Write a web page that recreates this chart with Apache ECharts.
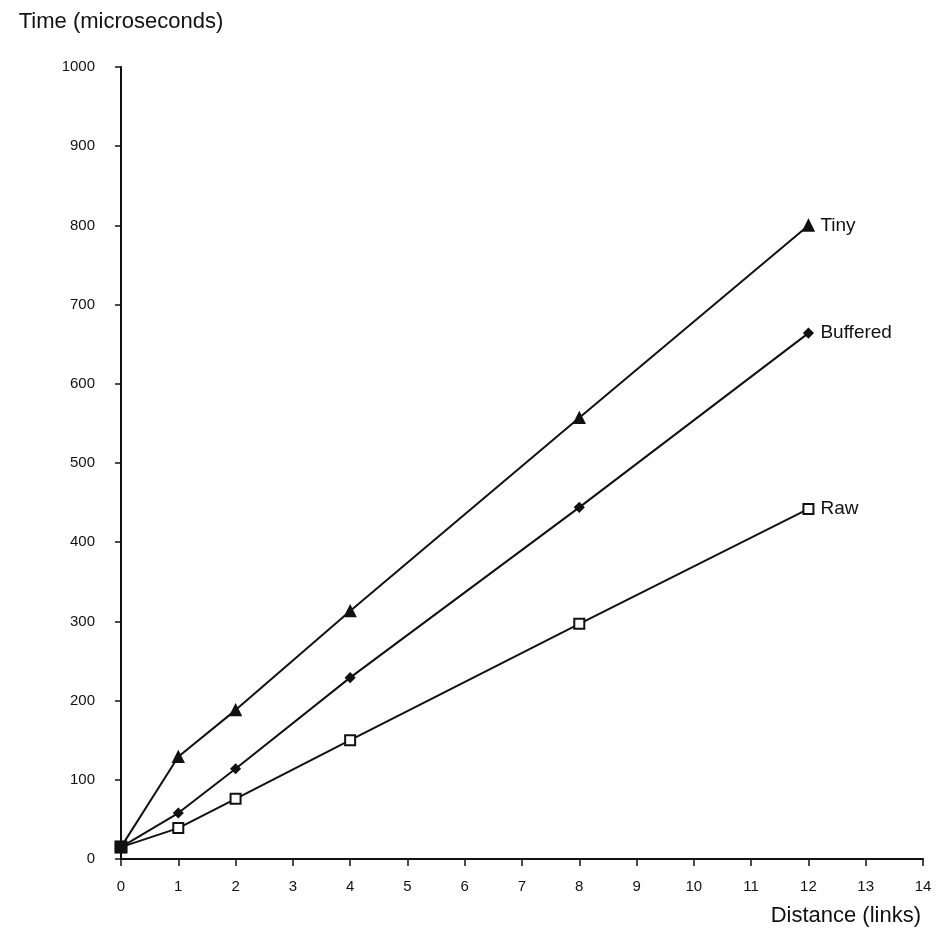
<!DOCTYPE html>
<html>
<head>
<meta charset="utf-8">
<script src="https://cdn.jsdelivr.net/npm/echarts@6/dist/echarts.min.js"></script>
<style>
  html, body { margin: 0; padding: 0; background: #fff; }
  #main { width: 938px; height: 936px; }
</style>
</head>
<body>
<div id="main"></div>
<script>
// distance in links, time in microseconds
const distances = [0, 1, 2, 4, 8, 12];
const tiny = [15, 129, 188, 313, 557, 800];
const buffered = [15, 58, 114, 229, 444, 664];
const raw = [15, 39, 76, 150, 297, 442];
const seriesNames = ['Tiny', 'Buffered', 'Raw'];

var myChart = echarts.init(document.getElementById('main'));
const font = 'Liberation Sans, Arial, sans-serif';
const ink = '#111';

function pts(vals) {
  return vals.map(function (v, i) {
    const p = { value: [distances[i], v] };
    if (i === 0) {
      p.symbol = 'rect';
      p.symbolSize = 11;
    }
    return p;
  });
}

function line(name, vals, sym, size) {
  return {
    name: name,
    type: 'line',
    data: pts(vals),
    symbol: sym,
    symbolSize: size,
    showAllSymbol: true,
    lineStyle: { color: ink, width: 2 },
    itemStyle: { color: ink, borderColor: ink, borderWidth: 1.5 },
    endLabel: {
      show: true,
      formatter: name,
      distance: 12,
      color: ink,
      fontFamily: font,
      fontSize: 19
    },
    animation: false,
    z: 3
  };
}

myChart.setOption({
  backgroundColor: '#fff',
  grid: { left: 121, right: 15, top: 67, bottom: 77, containLabel: false, outerBoundsMode: 'none' },
  xAxis: {
    type: 'value',
    min: 0, max: 14, interval: 1,
    name: 'Distance (links)',
    nameLocation: 'end',
    nameGap: -2,
    nameMoveOverlap: false,
    nameTextStyle: {
      color: ink, fontFamily: font, fontSize: 22,
      align: 'right', verticalAlign: 'top', padding: [46, 0, 0, 0]
    },
    axisLine: { lineStyle: { color: ink, width: 2 } },
    axisTick: { show: true, length: 7, lineStyle: { color: ink, width: 1.5 } },
    axisLabel: { color: ink, fontFamily: font, fontSize: 15, margin: 20 },
    splitLine: { show: false }
  },
  yAxis: {
    type: 'value',
    min: 0, max: 1000, interval: 100,
    name: 'Time (microseconds)',
    nameLocation: 'end',
    nameGap: 34,
    nameTextStyle: { color: ink, fontFamily: font, fontSize: 22 },
    axisLine: { show: true, lineStyle: { color: ink, width: 2 } },
    axisTick: { show: true, length: 6, lineStyle: { color: ink, width: 1.5 } },
    axisLabel: {
      color: ink, fontFamily: font, fontSize: 15, margin: 26,
      formatter: function (v) { return String(v); }
    },
    splitLine: { show: false }
  },
  series: [
    line(seriesNames[0], tiny, 'triangle', 11),
    line(seriesNames[1], buffered, 'diamond', 9),
    line(seriesNames[2], raw, 'emptyRect', 10)
  ]
});
</script>
</body>
</html>
